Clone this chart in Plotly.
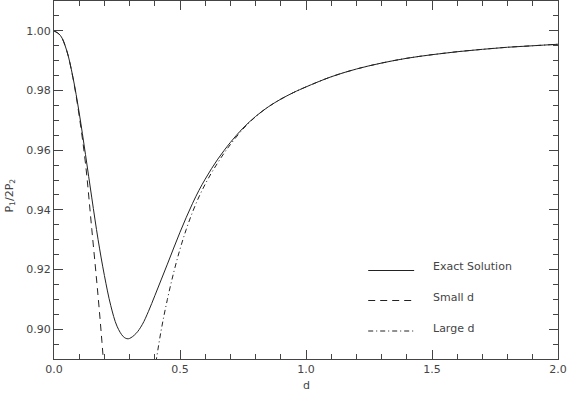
import plotly.graph_objects as go

# values
d_exact = [0.0, 0.025, 0.05, 0.075, 0.10, 0.125, 0.15, 0.175, 0.20, 0.225, 0.25,
           0.275, 0.29, 0.30, 0.325, 0.35, 0.375, 0.40, 0.425, 0.45, 0.475, 0.50,
           0.525, 0.55, 0.575, 0.60, 0.625, 0.65, 0.675, 0.70, 0.75, 0.80, 0.85,
           0.90, 0.95, 1.0, 1.1, 1.2, 1.3, 1.4, 1.5, 1.6, 1.7, 1.8, 1.9, 2.0]
p_exact = [1.0000, 0.9985, 0.9935, 0.9845, 0.9725, 0.9585, 0.9440, 0.9300, 0.9180,
           0.9080, 0.9010, 0.8975, 0.8968, 0.8969, 0.8985, 0.9015, 0.9060, 0.9112,
           0.9165, 0.9218, 0.9272, 0.9325, 0.9375, 0.9422, 0.9465, 0.9503, 0.9538,
           0.9570, 0.9599, 0.9626, 0.9674, 0.9713, 0.9745, 0.9771, 0.9793, 0.9812,
           0.9846, 0.9872, 0.9892, 0.9908, 0.9920, 0.9930, 0.9938, 0.9945, 0.9950,
           0.9955]

d_small = [0.0, 0.025, 0.05, 0.075, 0.10, 0.125, 0.15, 0.175, 0.19, 0.20, 0.21]
p_small = [1.0000, 0.9985, 0.9935, 0.9843, 0.9715, 0.9555, 0.9335, 0.9110, 0.8960,
           0.8850, 0.8730]

d_large = [0.39, 0.40, 0.425, 0.45, 0.475, 0.50, 0.525, 0.55, 0.575, 0.60, 0.625,
           0.65, 0.675, 0.70, 0.75, 0.80, 0.85, 0.90, 0.95, 1.0, 1.1, 1.2, 1.3, 1.4,
           1.5, 1.6, 1.7, 1.8, 1.9, 2.0]
p_large = [0.8810, 0.8865, 0.8995, 0.9100, 0.9190, 0.9268, 0.9335, 0.9393, 0.9443,
           0.9486, 0.9524, 0.9558, 0.9590, 0.9619, 0.9671, 0.9712, 0.9745, 0.9771,
           0.9793, 0.9812, 0.9846, 0.9872, 0.9892, 0.9908, 0.9920, 0.9930, 0.9938,
           0.9945, 0.9950, 0.9955]

legend_names = ["Exact Solution", "Small d", "Large d"]
legend_dash = ["solid", "7px,5px", "5px,3px,1px,3px"]

FONT = "DejaVu Sans"
TXT = "#444"
AX = "#444"
LINE = "#222"

fig = go.Figure()
for x, y, dash in [(d_exact, p_exact, legend_dash[0]),
                   (d_small, p_small, legend_dash[1]),
                   (d_large, p_large, legend_dash[2])]:
    fig.add_trace(go.Scatter(x=x, y=y, mode="lines",
                             line=dict(color=LINE, width=1, dash=dash,
                                       shape="spline", smoothing=1.0),
                             showlegend=False))

axis_common = dict(showgrid=False, zeroline=False, showline=True, linecolor=AX,
                   linewidth=1, mirror="allticks", ticks="inside", ticklen=9,
                   tickcolor=AX, tickwidth=1,
                   tickfont=dict(family=FONT, size=11, color=TXT))

fig.update_xaxes(range=[0, 2.0], dtick=0.5, tickformat=".1f",
                 minor=dict(dtick=0.1, ticks="inside", ticklen=5, tickcolor=AX),
                 **axis_common)
fig.update_yaxes(range=[0.89, 1.01], tick0=0.90, dtick=0.02, tickformat=".2f",
                 minor=dict(dtick=0.005, tick0=0.90, ticks="inside", ticklen=5,
                            tickcolor=AX),
                 **axis_common)

# legend drawn in paper coordinates
W, H = 567, 394
L, R, T, B = 53.5, 9, 1, 35
pw, ph = W - L - R, H - T - B


def px(xp):
    return (xp - L) / pw


def py(yp):
    return (H - B - yp) / ph


leg_rows = [(270.5, 266), (300.5, 297), (331, 328)]
for name, dash, (ly, ty) in zip(legend_names, legend_dash, leg_rows):
    fig.add_shape(type="line", xref="paper", yref="paper",
                  x0=px(368), x1=px(414), y0=py(ly), y1=py(ly),
                  line=dict(color=LINE, width=1, dash=dash))
    fig.add_annotation(xref="paper", yref="paper", x=px(431), y=py(ty),
                       text=name, showarrow=False, xanchor="left", yanchor="middle",
                       font=dict(family=FONT, size=11, color=TXT))

fig.add_annotation(xref="paper", yref="paper", x=px(9), y=py(196),
                   text="P<sub>1</sub>/2P<sub>2</sub>", textangle=-90, showarrow=False,
                   xanchor="center", yanchor="middle",
                   font=dict(family=FONT, size=11, color=TXT))
fig.add_annotation(xref="paper", yref="paper", x=0.5, y=py(385), text="d",
                   showarrow=False, xanchor="center", yanchor="middle",
                   font=dict(family=FONT, size=11, color=TXT))

fig.update_layout(width=W, height=H, margin=dict(l=L, r=R, t=T, b=B),
                  plot_bgcolor="white", paper_bgcolor="white", showlegend=False)

fig.write_html("out.html", config={"displayModeBar": False},
               post_script="document.body.style.margin='0';"
                           "document.body.style.overflow='hidden';")
